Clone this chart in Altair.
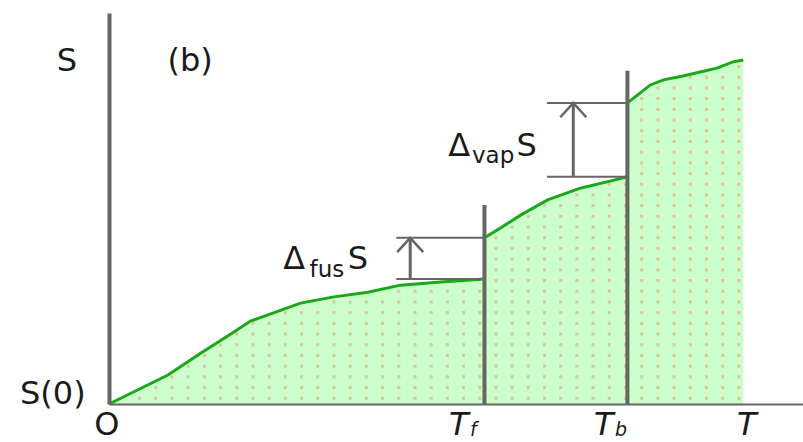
import altair as alt
import numpy as np
import pandas as pd

# Entropy S(T) of a substance, one list per phase (arbitrary units)
solid_T = [0, 8.5, 13.2, 18.0, 20.4, 22.9, 27.6, 32.4, 37.3, 42.0, 47.8, 54.1]
solid_S = [0, 7.4, 13.0, 18.4, 21.2, 22.8, 25.8, 27.4, 28.6, 30.4, 31.2, 32.0]
liquid_T = [54.1, 56.4, 59.3, 63.2, 67.9, 72.2, 74.7]
liquid_S = [42.5, 45.0, 48.3, 52.2, 55.2, 57.0, 58.1]
gas_T = [74.7, 76.5, 78.0, 79.9, 82.7, 85.2, 87.6, 89.9, 91.4]
gas_S = [77.0, 79.5, 81.6, 82.9, 83.9, 84.9, 85.9, 87.5, 88.0]

T_fus = 54.1   # melting point T_f
T_vap = 74.7   # boiling point T_b
fus_rule_top = 50.9
vap_rule_top = 85.2

GREEN_FILL = "#ccffcc"
GREEN_LINE = "#1aa81a"
DOT = "#d6cb98"
GREY = "#666666"
INK = "#1a1a1a"
FONT = "DejaVu Sans"

curve = pd.DataFrame({
    "T": solid_T + liquid_T + gas_T,
    "S": solid_S + liquid_S + gas_S,
    "phase": ["solid"] * len(solid_T) + ["liquid"] * len(liquid_T) + ["gas"] * len(gas_T),
})

# stippled texture under the curve
gx = np.arange(2.07, gas_T[-1], 2.334)
gy = np.arange(1.46, 100, 2.737)
GX, GY = np.meshgrid(gx, gy)
under = GY < np.interp(GX, curve["T"], curve["S"]) - 0.7
dots = pd.DataFrame({"T": GX[under], "S": GY[under]})

xs = alt.Scale(domain=[0, 100], nice=False, zero=False)
ys = alt.Scale(domain=[0, 100], nice=False, zero=False)
x_axis = alt.Axis(domain=True, domainColor=GREY, domainWidth=2, ticks=False,
                  labels=False, grid=False, title=None, zindex=1)
y_axis = alt.Axis(domain=True, domainColor=GREY, domainWidth=4, ticks=False,
                  labels=False, grid=False, title=None, zindex=1)


def X(f):
    return alt.X(f, type="quantitative", scale=xs, axis=x_axis)


def Y(f):
    return alt.Y(f, type="quantitative", scale=ys, axis=y_axis, stack=None)


area = alt.Chart(curve).mark_area(color=GREEN_FILL, opacity=1).encode(
    x=X("T"), y=Y("S"), detail="phase:N")

stipple = alt.Chart(dots).mark_square(size=10, color=DOT, opacity=1).encode(
    x=X("T"), y=Y("S"))

line = alt.Chart(curve).mark_line(color=GREEN_LINE, strokeWidth=3).encode(
    x=X("T"), y=Y("S"), detail="phase:N")

transitions = pd.DataFrame({
    "T": [T_fus, T_vap],
    "S0": [0, 0],
    "S1": [fus_rule_top, vap_rule_top],
})
rules = alt.Chart(transitions).mark_rule(color=GREY, strokeWidth=4).encode(
    x=X("T"), y=Y("S0"), y2="S1")

# jumps in entropy at the two transitions
jumps = pd.DataFrame({
    "T0": [41.4, 41.4, 63.1, 63.1],
    "T1": [T_fus, T_fus, T_vap, T_vap],
    "S": [solid_S[-1], liquid_S[0], liquid_S[-1], gas_S[0]],
})
brackets = alt.Chart(jumps).mark_rule(color=GREY, strokeWidth=2).encode(
    x=X("T0"), x2="T1", y=Y("S"))

arrows = pd.DataFrame({
    "T": [43.4, 66.9],
    "S0": [solid_S[-1], liquid_S[-1]],
    "S1": [liquid_S[0], gas_S[0]],
})
shafts = alt.Chart(arrows).mark_rule(color=GREY, strokeWidth=3).encode(
    x=X("T"), y=Y("S0"), y2="S1")
heads = alt.Chart(arrows).mark_point(
    shape="M-1,1.1L0,0L1,1.1", size=676, filled=False, color=GREY,
    strokeWidth=2.5, opacity=1).encode(x=X("T"), y=Y("S1"))


def label(text, t, s, size=32, italic=False, align="center"):
    return alt.Chart(pd.DataFrame({"T": [t], "S": [s]})).mark_text(
        text=text, font=FONT, fontSize=size, align=align, baseline="alphabetic",
        fontStyle="italic" if italic else "normal", color=INK,
    ).encode(x=X("T"), y=Y("S"))


labels = [
    label("S", -6.05, 85.2),
    label("(b)", 11.7, 85.2),
    label("S(0)", -8.1, 0),
    label("O", -0.3, -7.9),
    label("Δ", 25.1, 34.5, align="left"),
    label("fus", 28.9, 32.5, size=23, align="left"),
    label("S", 34.4, 34.5, align="left"),
    label("Δ", 48.9, 63.4, align="left"),
    label("vap", 52.3, 61.6, size=23, align="left"),
    label("S", 58.7, 63.4, align="left"),
    label("T", 50.4, -7.9, italic=True),
    label("f", 52.0, -8.1, size=19, italic=True, align="left"),
    label("T", 71.3, -7.9, italic=True),
    label("b", 72.9, -8.1, size=19, italic=True, align="left"),
    label("T", 91.9, -7.9, italic=True),
]

chart = alt.layer(
    area, stipple, line, rules, brackets, shafts, heads, *labels
).properties(
    width=694,
    height=391,
    autosize=alt.AutoSizeParams(type="none"),
    padding={"left": 109, "top": 13, "right": 0, "bottom": 38},
    background="white",
).configure_view(strokeWidth=0)

chart.save("out.html", embed_options={"renderer": "svg", "actions": False})
